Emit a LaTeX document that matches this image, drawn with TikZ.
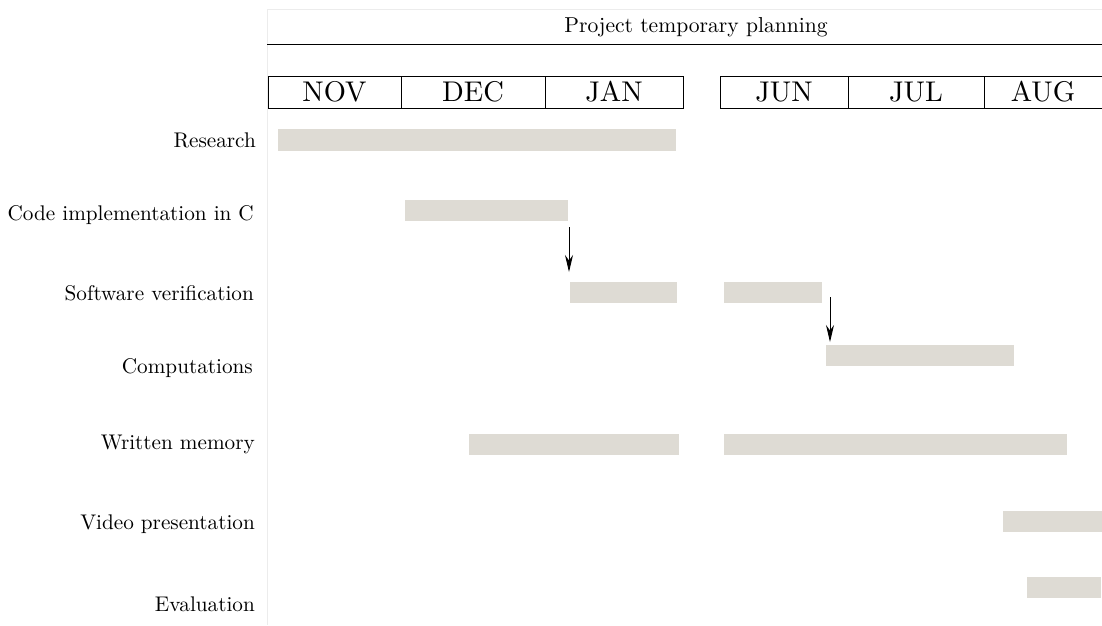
\documentclass[tikz,border=0pt]{standalone}
\usepackage{fontspec}
\setmainfont{lmroman10-regular.otf}
\usetikzlibrary{arrows.meta}
\definecolor{barfill}{RGB}{222,219,212}
\definecolor{framegray}{RGB}{236,236,236}
\begin{document}
\begin{tikzpicture}[x=1pt,y=-1pt,
  bar/.style={fill=barfill,draw=none,inner sep=0pt},
  lab/.style={anchor=east,inner sep=0pt,font=\fontsize{21.2}{24}\selectfont},
  month/.style={draw=black,line width=0.8pt,inner sep=0pt,minimum height=32pt,font=\fontsize{28.5}{30}\selectfont},
  arr/.style={-{Stealth[length=17pt,width=8pt]},line width=1pt}]
\useasboundingbox (0,0) rectangle (1102,625);
% faint frame
\draw[framegray,line width=0.8pt] (267,625) -- (267,9) -- (1102,9);
% title
\node[inner sep=0pt,font=\fontsize{21.6}{26}\selectfont] (title) at (696,27) {Project temporary planning};
\draw[line width=0.9pt] (267,44) -- (1102,44);
% months
\node[month,minimum width=133pt] (nov) at (334.5,92) {NOV};
\node[month,minimum width=144pt] (dec) at (473,92) {DEC};
\node[month,minimum width=138pt] (jan) at (614,92) {JAN};
\node[month,minimum width=128pt] (jun) at (784,92) {JUN};
\node[month,minimum width=136pt] (jul) at (916,92) {JUL};
\node[month,minimum width=118pt] (aug) at (1043,92) {AUG};
% labels
\node[lab] (l1) at (256,140) {Research};
\node[lab] (l2) at (254,215) {Code implementation in C};
\node[lab] (l3) at (254,293) {Software verification};
\node[lab] (l4) at (253,368) {Computations};
\node[lab] (l5) at (255,444) {Written memory};
\node[lab] (l6) at (255,524) {Video presentation};
\node[lab] (l7) at (255,604) {Evaluation};
% bars
\fill[barfill] (278,129) rectangle (676,151);
\fill[barfill] (405,200) rectangle (568,221);
\fill[barfill] (570,282) rectangle (677,303);
\fill[barfill] (724,282) rectangle (822,303);
\fill[barfill] (826,345) rectangle (1014,366);
\fill[barfill] (469,434) rectangle (679,455);
\fill[barfill] (724,434) rectangle (1067,455);
\fill[barfill] (1003,511) rectangle (1102,532);
\fill[barfill] (1027,577) rectangle (1101,598);
% arrows
\coordinate (a1s) at (569,227);
\coordinate (a1e) at (569,272);
\coordinate (a2s) at (830,297);
\coordinate (a2e) at (830,342);
\draw[arr] (a1s) -- (a1e);
\draw[arr] (a2s) -- (a2e);
\end{tikzpicture}
\end{document}
